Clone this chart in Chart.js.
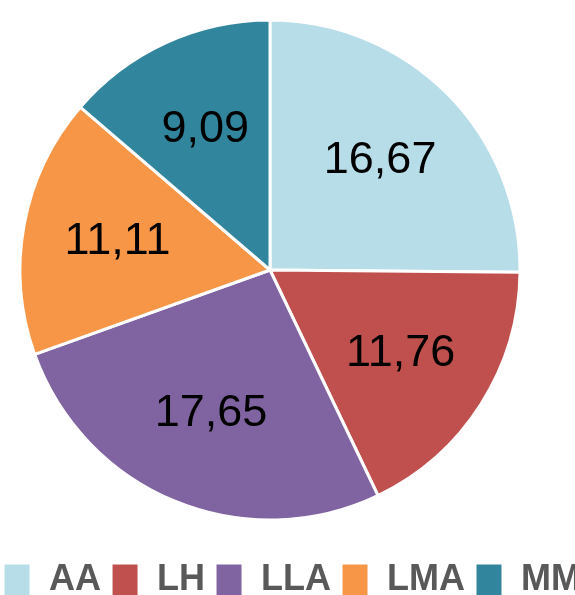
<!DOCTYPE html>
<html>
<head>
<meta charset="utf-8">
<script src="https://cdn.jsdelivr.net/npm/chart.js@4.4.1/dist/chart.umd.min.js"></script>
<style>
  html, body { margin: 0; padding: 0; background: #fff; overflow: hidden; }
  #frame { position: relative; width: 575px; height: 595px; overflow: hidden; }
  #myChart { position: absolute; left: -8px; top: 0; }
</style>
</head>
<body>
<div id="frame">
  <canvas id="myChart" width="600" height="608"></canvas>
</div>
<script>
// data
const labels = ['AA', 'LH', 'LLA', 'LMA', 'MM'];
const values = [16.67, 11.76, 17.65, 11.11, 9.09];
const colors = ['#b7dde8', '#c0504d', '#8064a2', '#f79646', '#31859c'];

// pie sits left of the canvas middle in the original, so move the chart area
const pieArea = {
  id: 'pieArea',
  afterLayout(chart) {
    const cx = 278, cy = 270, r = 250;
    chart.chartArea = {
      left: cx - r, right: cx + r, top: cy - r, bottom: cy + r,
      width: 2 * r, height: 2 * r
    };
  }
};

// values written inside the slices, comma as decimal mark
const sliceLabels = {
  id: 'sliceLabels',
  afterDatasetsDraw(chart) {
    const ctx = chart.ctx;
    const meta = chart.getDatasetMeta(0);
    ctx.save();
    ctx.font = '45px "Liberation Sans", Arial, sans-serif';
    ctx.fillStyle = '#000';
    ctx.textAlign = 'center';
    ctx.textBaseline = 'middle';
    meta.data.forEach((arc, i) => {
      const p = arc.getProps(['x', 'y', 'startAngle', 'endAngle', 'outerRadius'], true);
      const mid = (p.startAngle + p.endAngle) / 2;
      const rr = p.outerRadius * 0.62;
      const txt = values[i].toFixed(2).replace('.', ',');
      ctx.fillText(txt, p.x + Math.cos(mid) * rr, p.y + Math.sin(mid) * rr);
    });
    ctx.restore();
  }
};

const ctx = document.getElementById('myChart').getContext('2d');
const myChart = new Chart(ctx, {
  type: 'pie',
  data: {
    labels: labels,
    datasets: [{
      data: values,
      backgroundColor: colors,
      borderColor: '#ffffff',
      borderWidth: 3,
      radius: 250
    }]
  },
  options: {
    responsive: false,
    animation: false,
    plugins: {
      legend: {
        position: 'bottom',
        labels: {
          color: '#595959',
          boxWidth: 28,
          boxHeight: 34,
          padding: 10,
          font: { family: '"Liberation Sans", Arial, sans-serif', size: 36, weight: 'bold' }
        }
      },
      tooltip: { enabled: false }
    }
  },
  plugins: [pieArea, sliceLabels]
});
</script>
</body>
</html>
